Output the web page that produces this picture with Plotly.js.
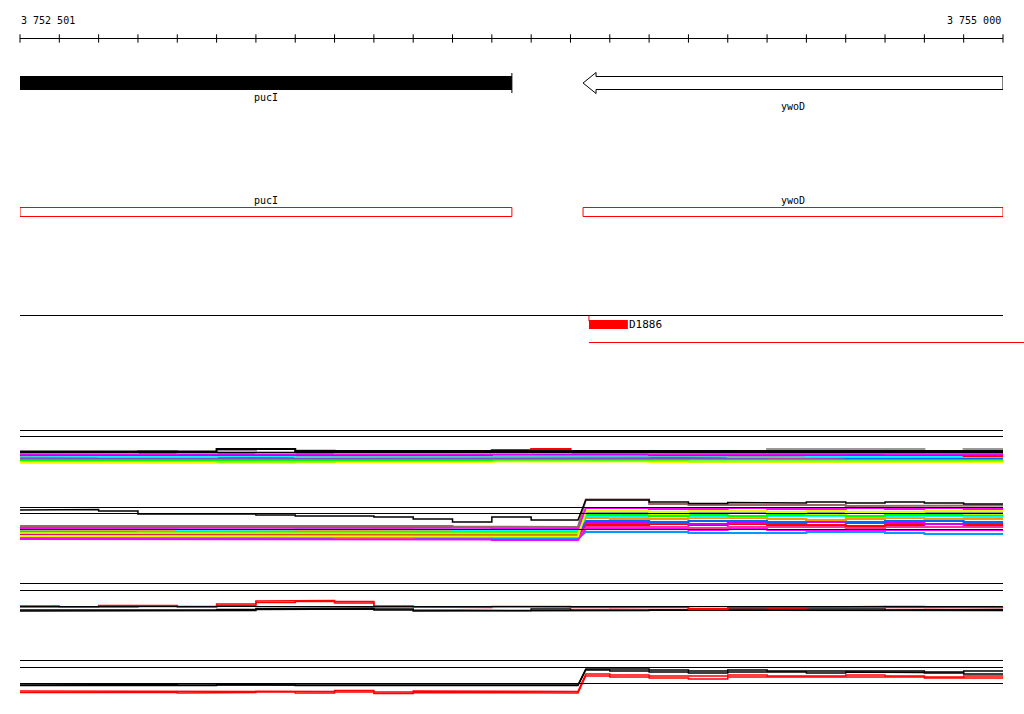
<!DOCTYPE html>
<html><head><meta charset="utf-8">
<script src="https://cdn.plot.ly/plotly-3.0.1.min.js"></script>
<style>html,body{margin:0;padding:0;background:#fff}#chart{width:1024px;height:714px}</style>
</head><body><div id="chart"></div>
<script>
// ---------------- DATA ----------------
const scaleStart = 3752501;
const scaleEnd = 3755000;
const scaleTicks = [3752501,3752601,3752701,3752801,3752901,3753001,3753101,3753201,3753301,3753401,
  3753501,3753601,3753701,3753801,3753901,3754001,3754101,3754201,3754301,3754401,
  3754501,3754601,3754701,3754801,3754901,3755001];

const geneNames = ['pucI', 'ywoD'];
const geneStarts = [3752501, 3753933];
const geneEnds = [3753752, 3755001];
const geneStrands = ['+', '-'];

const featureNames = ['D1886'];
const featureStarts = [3753948];
const featureEnds = [3754047];

// bin edges (bp)
const binEdges = [3752501,3752601,3752701,3752801,3752901,3753001,3753101,3753201,3753301,3753401,
  3753501,3753601,3753701,3753801,3753901,3754001,3754101,3754201,3754301,3754401,
  3754501,3754601,3754701,3754801,3754901,3755001];
const leftEdges = [3752501,3752601,3752701,3752801,3752901,3753001,3753101,3753201,3753301,3753401,
  3753501,3753601,3753701,3753801,3753920];
const rightEdges = [3753940,3754001,3754101,3754201,3754301,3754401,3754501,3754601,3754701,3754801,3754901,3755001];

// panel reference levels
const refA = [19.75, 16.75, 8.75];
const refB = [18.75, 15.75, 7.75];
const refC = [18.25, 14.75, 6.75];
const refD = [19.75, 16.25, 8.25];

// panel A series (25 bins)
const aYellow = [3.5,3.5,3.5,3.5,3.5, 3.25,3.5,3.75,4,4, 4,4,4.25,4.25,4.5, 4.25,4,4,3.75,3.75, 4,4,3.75,3.75,4];
const aLime   = [4.5,4.5,4.25,4.5,4.5, 4,4.25,4,4.5,4.5, 4.25,4.5,4.75,4.5,4.5, 4.5,4.5,4.25,4.5,4.5, 4.5,4.25,4.25,4.5,4.5];
const aGreen  = [5,5,5,5,4.75, 5,5,5,5,5, 5,5,5.25,5,5, 5,5.25,5,5,5, 5,5,5,5,5.25];
const aPink   = [5.75,5.75,6,5.75,5.75, 5.75,6,5.75,5.75,5.75, 5.75,6,5.75,5.75,5.75, 6,5.75,5.75,5.75,6, 5.75,5.75,5.75,6,5.75];
const aBlue   = [6.25,6,6,6.25,6, 6,6.25,6.25,6,6, 6,6,6,6.25,6.25, 6,6,6.25,6.25,6.5, 6.25,6,6.25,6.25,6];
const aOrange = [6.75,6.5,6.5,6.75,6.5, 7,6.75,6.5,6.5,6.75, 6.75,6.5,6.75,6.5,6.5, 6.75,7,6.75,6.5,6.75, 6.5,6.75,6.75,6.5,6.5];
const aDodger = [7.25,7.25,7.5,7.25,7.25, 7.25,7.25,7.25,7.5,7.25, 7.25,7.25,7.25,7.5,7.25, 7.25,7.25,7.25,7.25,7.5, 7.5,7.25,7.25,7.5,7.25];
const aCyan   = [7.25,7,6.75,7,7, 7,7,7.25,7,7, 7,7,7,7.25,7, 7,7,7.25,7.5,7.25, 7,7,7,7,7];
const aRed    = [7.5,7.5,7.75,7.5,7.75, 7.5,7.5,7.75,7.5,7.5, 7.5,7.5,10,10.5,9.5, 8,7.5,7.5,7.5,7.75, 7.5,7.75,7.5,7.5,7];
const aPurple = [7.75,8,7.75,7.75,8, 7.75,7.75,8,7.75,7.75, 7.75,7.75,7.75,7.75,8, 7.75,7.75,8,7.75,7.75, 8,7.75,7.75,8,7.75];
const aMagenta= [8.25,8,8,8,8.5, 8.5,8.25,8.25,8,8, 8,8,8.25,8.5,8.25, 8.5,8,8,8.25,8, 8.25,8.5,8,8,8.25];
const aBrown  = [8.75,8.5,8.5,8.5,8.5, 8.5,8.5,8.75,8.5,8.5, 8.5,8.5,8.5,8.75,8.5, 8.5,8.5,8.75,8.5,8.5, 8.5,8.75,8.5,8.5,8.5];
const aGray   = [8.75,8.75,8.5,9.5,8.5, 9.75,8.5,9.75,8.5,8.5, 8.5,8.75,8.5,8.5,9.25, 9,8.75,9,9.25,10.5, 10.75,10.75,10.5,9.5,10.5];
const aBlack  = [9.25,9.25,9.25,9.25,9.25, 10.5,10.5,9.5,9.25,9.25, 9.25,9.25,9.5,9.25,9.25, 9.25,9.25,9.25,9.25,9.5, 9.5,9.25,9.25,9.25,9.5];

// panel B series (left 14 bins, right 11 bins)
const bDodgerL = [3.5,3.5,3.25,3.25,3.5, 3.5,3.25,3.25,3.5,3.5, 3.5,3.25,3.25,3.25];
const bDodgerR = [6.5,6.5,6.5,6,6, 6,6.5,6.5,6,5.5,5.5];
const bMag2L = [3,3,3,3,3, 2.75,2.75,2.75,2.75,2.75, 2.75,2.75,2.5,2.5];
const bMag2R = [8,8,8,7.5,8, 7.5,7.5,7.5,7.5,7.5,7.5];
const bPinkL = [4,3.75,3.75,4,4, 4,4,4,3.5,3.5, 4,4,4,4];
const bPinkR = [9,9,9,8.5,9, 9,9,8.5,9,9,9];
const bRedL = [5.5,5.5,5.25,5,5, 5.25,5.25,5.25,5,5.25, 5.25,5.25,5,5];
const bRedR = [10,10,10.5,10,10.5, 10,10,9.5,10,10.5,10];
const bPurpleL = [4.75,4.75,4.5,4.5,4.5, 4.75,4.75,4.5,4.5,4.5, 4.5,4.75,4.5,4.5];
const bPurpleR = [11,11,11,10.5,11, 11,11.5,11,11,10.5,11];
const bBlueL = [7,7,6.75,6.75,7, 7,7,6.75,7,7, 6.75,6.75,7,6.5];
const bBlueR = [12,12,11.5,12,12, 11.5,12,11.5,12,12,11.5];
const bOrangeL = [7.25,7.5,7.25,7,7, 7,7.25,7.25,7,7, 7.25,7.25,7,7];
const bOrangeR = [13.5,13,13,13.5,13.5, 13,12.5,13,13.5,13,13];
const bCyanL = [7.75,8,8,8,7.5, 7.5,7.75,8,7.75,7.75, 7.75,7.5,7.75,7.5];
const bCyanR = [14.5,14,14.5,14,14, 14.5,14.5,14,14,14.5,14];
const bGreenL = [6.25,6.5,6.5,6.5,6.5, 6.25,6.5,6.25,6.25,6.5, 6.5,6.25,6.25,6.25];
const bGreenR = [15,15,14.5,15,14.5, 15,15,14.5,15,15,15];
const bLimeL = [6,5.75,5.75,6,6, 6,5.75,6,6,6, 5.75,5.75,5.75,5.75];
const bLimeR = [16,16,15.5,16,16.5, 16,15.5,16,16.5,16,15.5];
const bGrayL = [8.75,8.75,9,9,9.5, 9.5,9,8.75,8.75,8.5, 9,8.75,8.5,8.5];
const bGrayR = [16.5,16.5,16,16.5,16.5, 16,16.5,16,16,16.5,16];
const bYellowL = [4.5,4.5,4.25,4.25,4.25, 4.5,4.5,4.25,4.25,4.25, 4.5,4.5,4.25,4.25];
const bYellowR = [17,17,16.5,17,17, 16.5,17,16.5,16.5,17,17];
const bMagentaL = [8.5,8.5,8.75,8.5,8.5, 8.5,8.5,8.75,8.5,8.5, 8.5,8.75,8.25,8];
const bMagentaR = [18.5,18.5,18,18,18.5, 18,18,18.5,18,18.5,18];
const bBrownL = [9.5,9.5,9.5,9.5,9.75, 9.75,9.5,9.5,9.5,9.5, 9.5,9.25,9,9];
const bBrownR = [22.75,22.75,20.5,20,19.75, 19.75,20,19.5,19.75,19.5,19.75];
const bBlackL = [17.5,17.75,17,15.5,15.25, 15.5,15,14.5,14.5,14, 13,11.5,14,12.5];
const bBlackR = [22.5,22.5,21.5,20.75,21.25, 21,21.5,21,21.5,21,20.5];

// panel C series (25 bins)
const cRed1 = [7,6.5,7.25,7.25,6.5, 8,9.5,9.75,9.25,7, 6.5,6.25,6.75,6.5,6.5, 6.25,6.5,5.75,6.25,6.5, 6.25,6.5,6.75,6.25,6.5];
const cRed2 = [6.5,6.25,6.5,6.75,6.75, 7.25,8.75,9.25,8.5,6.5, 6.5,6.75,6.5,6.75,6.25, 6.5,6.25,5.25,6.5,6, 6.5,6.75,6.25,6.5,6.25];
const cBlack1 = [5,5,4.75,5,5, 5.25,5.75,6,6,5.5, 5,4.75,4.75,5.5,5, 5,5,5.5,5.25,5.25, 5.5,5.5,5,5.25,5.25];
const cBlack2 = [4.5,4.5,4.75,4.5,4.5, 4.75,5.25,5.5,5.5,5, 4.5,4.5,4.5,4.75,4.5, 4.75,5,5,4.75,4.75, 5,5,5,4.75,4.75];

// panel D series (left 14 bins, right 11 bins)
const dBlack1L = [8,8,7.75,7.75,7.5, 7.5,7.75,7.75,7.75,7.75, 7.75,7.5,7.5,7.5];
const dBlack1R = [15.5,15.5,15,14.5,15, 14.5,14.5,14.5,14.5,14,14.5];
const dBlack2L = [7.25,7.25,7.5,7.25,7.25, 7.75,7.5,7.25,7.25,7, 7.25,7.25,7.25,7.25];
const dBlack2R = [15,14.5,14,13.5,14, 14,13.5,14,13.75,13.5,13];
const dRed1L = [4.5,4.5,4.25,4.5,4.5, 4.25,4.5,4.25,4.75,4, 4.5,4.5,4.25,4.25];
const dRed1R = [13,12.5,12,12,12.5, 12,12,12.5,12,11.5,12];
const dRed2L = [3.75,4,3.75,3.75,3.5, 3.75,4,3.5,4,3.25, 3.75,3.75,3.5,3.5];
const dRed2R = [12,11.5,11,10.5,11.5, 11.5,11.5,11.5,11.5,11,11];

// ---------------- LAYOUT / DRAWING ----------------
const W = 1024, H = 714, ML = 20, MR = 21;
const xMin = scaleTicks[0], xMax = scaleTicks[scaleTicks.length - 1];
const pp = p => 1 - p / H;
const dom = (t, b) => [1 - b / H, 1 - t / H];
const toPaperX = v => (v - xMin) / (xMax - xMin);
const fmt = n => String(n).replace(/\B(?=(\d{3})+(?!\d))/g, ' ');
const MONO = 'DejaVu Sans Mono';

function stepXY(edges, vals) {
  const x = [], y = [];
  for (let i = 0; i < vals.length; i++) { x.push(edges[i], edges[i + 1]); y.push(vals[i], vals[i]); }
  return {x, y};
}
function splitXY(lv, rv) {
  const a = stepXY(leftEdges, lv), b = stepXY(rightEdges, rv);
  return {x: a.x.concat(b.x), y: a.y.concat(b.y)};
}

const traces = [];
// scale ticks
traces.push({x: scaleTicks, y: scaleTicks.map(() => 0), xaxis: 'x', yaxis: 'y', mode: 'markers',
  marker: {symbol: 'line-ns', size: 6, color: '#000', line: {width: 1, color: '#000'}}, cliponaxis: false, hoverinfo: 'skip'});

function addLine(xy, yaxis, color, width) {
  traces.push({x: xy.x, y: xy.y, xaxis: 'x', yaxis: yaxis, mode: 'lines',
    line: {color: color, width: width, shape: 'linear'}, hoverinfo: 'skip'});
}

const panelA = [[aYellow,'#ffff00'],[aLime,'#aaff00'],[aGreen,'#00ff00'],[aPink,'#ff3399'],[aBlue,'#0066ff'],
  [aOrange,'#ff9900'],[aDodger,'#3399ff'],[aCyan,'#00ffff'],[aRed,'#ff0000'],[aPurple,'#cc00ff'],
  [aMagenta,'#ff00ff'],[aBrown,'#996666'],[aGray,'#999999'],[aBlack,'#000000']];
panelA.forEach(s => addLine(stepXY(binEdges, s[0]), 'y2', s[1], 2));

const panelB = [[bDodgerL,bDodgerR,'#0099ff'],[bMag2L,bMag2R,'#ff00ff'],[bPinkL,bPinkR,'#ff3399'],
  [bRedL,bRedR,'#ff0000'],[bPurpleL,bPurpleR,'#cc00ff'],[bBlueL,bBlueR,'#0066ff'],[bOrangeL,bOrangeR,'#ff9900'],
  [bCyanL,bCyanR,'#00ffff'],[bGreenL,bGreenR,'#00ff00'],[bLimeL,bLimeR,'#aaff00'],[bGrayL,bGrayR,'#999999'],
  [bYellowL,bYellowR,'#ddff00'],[bMagentaL,bMagentaR,'#ff00ff'],[bBrownL,bBrownR,'#996666']];
panelB.forEach(s => addLine(splitXY(s[0], s[1]), 'y3', s[2], 2));
addLine(splitXY(bBlackL, bBlackR), 'y3', '#000000', 1.5);

addLine(stepXY(binEdges, cBlack1), 'y4', '#000000', 1.5);
addLine(stepXY(binEdges, cBlack2), 'y4', '#000000', 1.5);
addLine(stepXY(binEdges, cRed1), 'y4', '#ff0000', 1.5);
addLine(stepXY(binEdges, cRed2), 'y4', '#ff0000', 1.5);

addLine(splitXY(dBlack1L, dBlack1R), 'y5', '#000000', 1.5);
addLine(splitXY(dBlack2L, dBlack2R), 'y5', '#000000', 1.5);
addLine(splitXY(dRed1L, dRed1R), 'y5', '#ff0000', 1.5);
addLine(splitXY(dRed2L, dRed2R), 'y5', '#ff0000', 1.5);

const shapes = [];
const annotations = [];
// scale baseline
shapes.push({type: 'line', xref: 'x', yref: 'y', x0: xMin, x1: xMax, y0: 0, y1: 0, line: {color: '#000', width: 1}});
annotations.push({xref: 'paper', yref: 'paper', x: 0, y: pp(20), xanchor: 'left', yanchor: 'middle', showarrow: false,
  text: fmt(scaleStart), font: {family: MONO, size: 10, color: '#000'}, borderpad: 0});
annotations.push({xref: 'paper', yref: 'paper', x: toPaperX(scaleEnd) - 1 / 983, y: pp(20), xanchor: 'right', yanchor: 'middle', showarrow: false,
  text: fmt(scaleEnd), font: {family: MONO, size: 10, color: '#000'}, borderpad: 0});

// genes
const headBp = 33;
geneNames.forEach((g, i) => {
  const s = geneStarts[i], e = geneEnds[i], mid = (s + e) / 2;
  if (geneStrands[i] === '+') {
    shapes.push({type: 'rect', xref: 'x', yref: 'paper', x0: s, x1: e, y0: pp(90), y1: pp(76), fillcolor: '#000', line: {width: 0}});
    shapes.push({type: 'line', xref: 'x', yref: 'paper', x0: e, x1: e, y0: pp(93), y1: pp(73), line: {color: '#000', width: 1}});
    annotations.push({xref: 'x', yref: 'paper', x: mid, y: pp(97.5), showarrow: false, text: g, yanchor: 'middle',
      font: {family: MONO, size: 10, color: '#000'}, borderpad: 0});
  } else {
    const h = s + headBp;
    shapes.push({type: 'path', xref: 'x', yref: 'paper', fillcolor: '#fff', line: {color: '#000', width: 1},
      path: `M${s},${pp(83)} L${h},${pp(72.5)} L${h},${pp(76.5)} L${e},${pp(76.5)} L${e},${pp(89.5)} L${h},${pp(89.5)} L${h},${pp(93.5)} Z`});
    annotations.push({xref: 'x', yref: 'paper', x: mid, y: pp(106.5), showarrow: false, text: g, yanchor: 'middle',
      font: {family: MONO, size: 10, color: '#000'}, borderpad: 0});
  }
  shapes.push({type: 'rect', xref: 'x', yref: 'paper', x0: s, x1: e, y0: pp(216.5), y1: pp(207.5), line: {color: '#ff0000', width: 1}});
  annotations.push({xref: 'x', yref: 'paper', x: mid, y: pp(200.5), showarrow: false, text: g, yanchor: 'middle',
    font: {family: MONO, size: 10, color: '#000'}, borderpad: 0});
});

// feature track
shapes.push({type: 'line', xref: 'paper', yref: 'paper', x0: 0, x1: 1, y0: pp(315.5), y1: pp(315.5), line: {color: '#000', width: 1}});
featureNames.forEach((f, i) => {
  const s = featureStarts[i], e = featureEnds[i];
  shapes.push({type: 'rect', xref: 'x', yref: 'paper', x0: s, x1: e, y0: pp(329), y1: pp(320), fillcolor: '#ff0000', line: {width: 0}});
  shapes.push({type: 'line', xref: 'x', yref: 'paper', x0: s, x1: s, y0: pp(321), y1: pp(315.5), line: {color: '#ff0000', width: 1}});
  shapes.push({type: 'line', xref: 'paper', yref: 'paper', x0: toPaperX(s), x1: (W - ML) / (W - ML - MR), y0: pp(342.5), y1: pp(342.5), line: {color: '#ff0000', width: 1}});
  annotations.push({xref: 'x', yref: 'paper', x: e, y: pp(324.5), xanchor: 'left', yanchor: 'middle', showarrow: false, text: f,
    font: {family: MONO, size: 11, color: '#000'}, borderpad: 0});
});

// panel reference lines
[[refA,'y2'],[refB,'y3'],[refC,'y4'],[refD,'y5']].forEach(p => {
  p[0].forEach(v => shapes.push({type: 'line', xref: 'x', yref: p[1], x0: xMin, x1: xMax, y0: v, y1: v, layer: 'above', line: {color: '#000', width: 1}}));
});

const hide = {visible: false, fixedrange: true, showgrid: false, zeroline: false};
const layout = {
  width: W, height: H, margin: {l: ML, r: MR, t: 0, b: 0, pad: 0},
  paper_bgcolor: '#fff', plot_bgcolor: 'rgba(0,0,0,0)', showlegend: false, hovermode: false,
  xaxis: Object.assign({range: [xMin, xMax]}, hide),
  yaxis: Object.assign({domain: dom(30.5, 46.5), range: [-1, 1]}, hide),
  yaxis2: Object.assign({domain: dom(420, 470), range: [0, 25]}, hide),
  yaxis3: Object.assign({domain: dom(495, 545), range: [0, 25]}, hide),
  yaxis4: Object.assign({domain: dom(575, 620), range: [0, 22.5]}, hide),
  yaxis5: Object.assign({domain: dom(655, 700), range: [0, 22.5]}, hide),
  shapes: shapes, annotations: annotations
};
Plotly.newPlot('chart', traces, layout, {staticPlot: true, displayModeBar: false});
</script></body></html>
